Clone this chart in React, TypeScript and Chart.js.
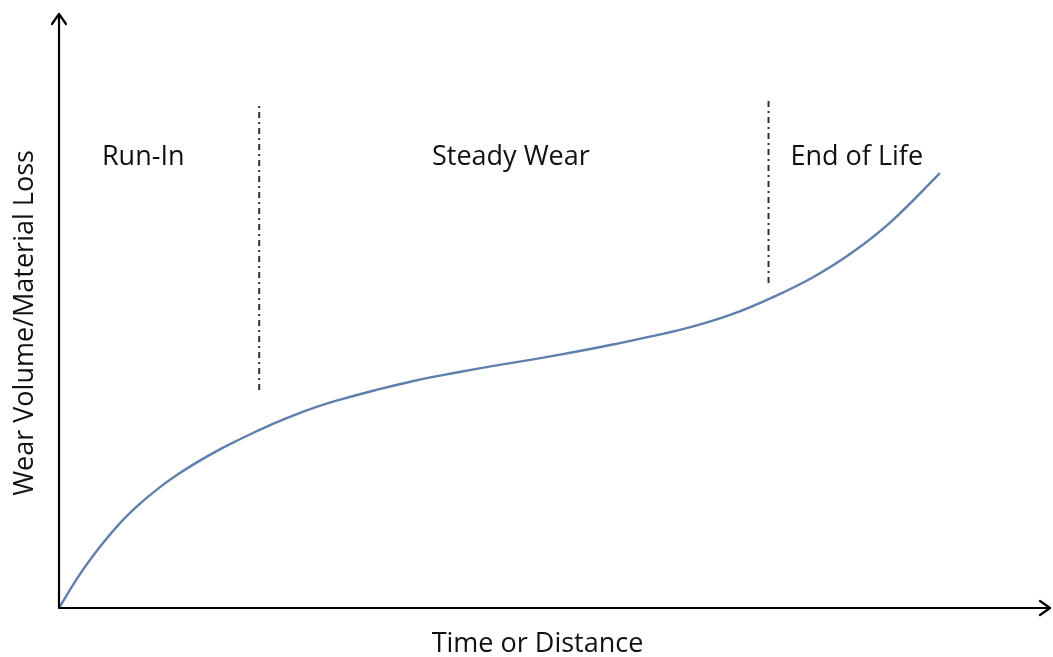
import React, { useEffect, useRef } from "react";
import { Chart, registerables } from "chart.js";

Chart.register(...registerables);

// Wear curve (x: time/distance, y: wear volume), arbitrary 0-100 units
const curveX = [0, 2, 4, 6, 8, 10, 12, 14, 16, 18, 20, 22, 24, 26, 28, 32, 36, 40, 44, 48, 52, 56, 60, 64, 68, 72, 76, 80, 84, 88.9];
const curveY = [0, 5.4, 10.0, 14.0, 17.3, 20.1, 22.5, 24.6, 26.5, 28.2, 29.8, 31.3, 32.65, 33.85, 34.9, 36.7, 38.3, 39.6, 40.8, 41.9, 43.1, 44.4, 45.8, 47.4, 49.5, 52.3, 55.6, 59.8, 65.1, 73.2];

// Phase boundaries (x position, bottom y, top y)
const boundaryX = [20.2, 71.6];
const boundaryBottom = [36.7, 54.7];
const boundaryTop = [85.0, 86.0];

// Phase labels
const phaseLabels = ["Run-In", "Steady Wear", "End of Life"];
const phaseLabelX = [8.5, 45.6, 80.5];
const phaseLabelY = [75.8, 75.8, 75.8];

const xTitle = "Time or Distance";
const yTitle = "Wear Volume/Material Loss";

const FONT = "'Open Sans', sans-serif";

const decorPlugin = {
  id: "decor",
  afterDatasetsDraw(chart: any) {
    const { ctx, chartArea, scales } = chart;
    const xs = scales.x;
    const ys = scales.y;
    const ox = chartArea.left;
    const oy = chartArea.bottom;
    ctx.save();
    // axes
    ctx.strokeStyle = "#000";
    ctx.lineWidth = 2.2;
    ctx.lineCap = "round";
    ctx.lineJoin = "round";
    ctx.beginPath();
    ctx.moveTo(ox, chartArea.top);
    ctx.lineTo(ox, oy);
    ctx.lineTo(chartArea.right, oy);
    ctx.stroke();
    // arrowheads
    ctx.beginPath();
    ctx.moveTo(ox - 7, chartArea.top + 10);
    ctx.lineTo(ox, chartArea.top);
    ctx.lineTo(ox + 7, chartArea.top + 10);
    ctx.moveTo(chartArea.right - 10, oy - 7);
    ctx.lineTo(chartArea.right, oy);
    ctx.lineTo(chartArea.right - 10, oy + 7);
    ctx.stroke();

    // phase labels
    ctx.fillStyle = "#111";
    ctx.font = `27px ${FONT}`;
    ctx.textAlign = "center";
    ctx.textBaseline = "middle";
    phaseLabels.forEach((t, i) => {
      ctx.fillText(t, xs.getPixelForValue(phaseLabelX[i]), ys.getPixelForValue(phaseLabelY[i]));
    });

    // axis titles
    ctx.fillText(xTitle, (chartArea.left + chartArea.right) / 2 - 17, oy + 36);
    ctx.save();
    ctx.translate(ox - 34, 323);
    ctx.rotate(-Math.PI / 2);
    ctx.fillText(yTitle, 0, 0);
    ctx.restore();
    ctx.restore();
  },
};

export default function App() {
  const ref = useRef<HTMLCanvasElement>(null);
  useEffect(() => {
    if (!ref.current) return;
    const datasets: any[] = [
      {
        data: curveX.map((x, i) => ({ x, y: curveY[i] })),
        borderColor: "#5f7fae",
        borderWidth: 2.4,
        pointRadius: 0,
        tension: 0.4,
        fill: false,
      },
    ];
    boundaryX.forEach((bx, i) => {
      datasets.push({
        data: [
          { x: bx, y: boundaryBottom[i] },
          { x: bx, y: boundaryTop[i] },
        ],
        borderColor: "#333",
        borderWidth: 2,
        borderDash: [6, 4, 2, 4],
        pointRadius: 0,
        fill: false,
      });
    });
    const chart = new Chart(ref.current, {
      type: "line",
      data: { datasets },
      options: {
        animation: false,
        responsive: false,
        events: [],
        layout: { padding: { left: 59, right: 3, top: 14, bottom: 49 } },
        plugins: { legend: { display: false }, tooltip: { enabled: false } },
        scales: {
          x: { type: "linear", min: 0, max: 100, display: false },
          y: { type: "linear", min: 0, max: 100, display: false },
        },
      },
      plugins: [decorPlugin],
    });
    return () => chart.destroy();
  }, []);
  return (
    <div style={{ position: "absolute", left: 0, top: 0, width: 1053, height: 657, background: "#fff" }}>
      <canvas ref={ref} width={1053} height={657} />
    </div>
  );
}
